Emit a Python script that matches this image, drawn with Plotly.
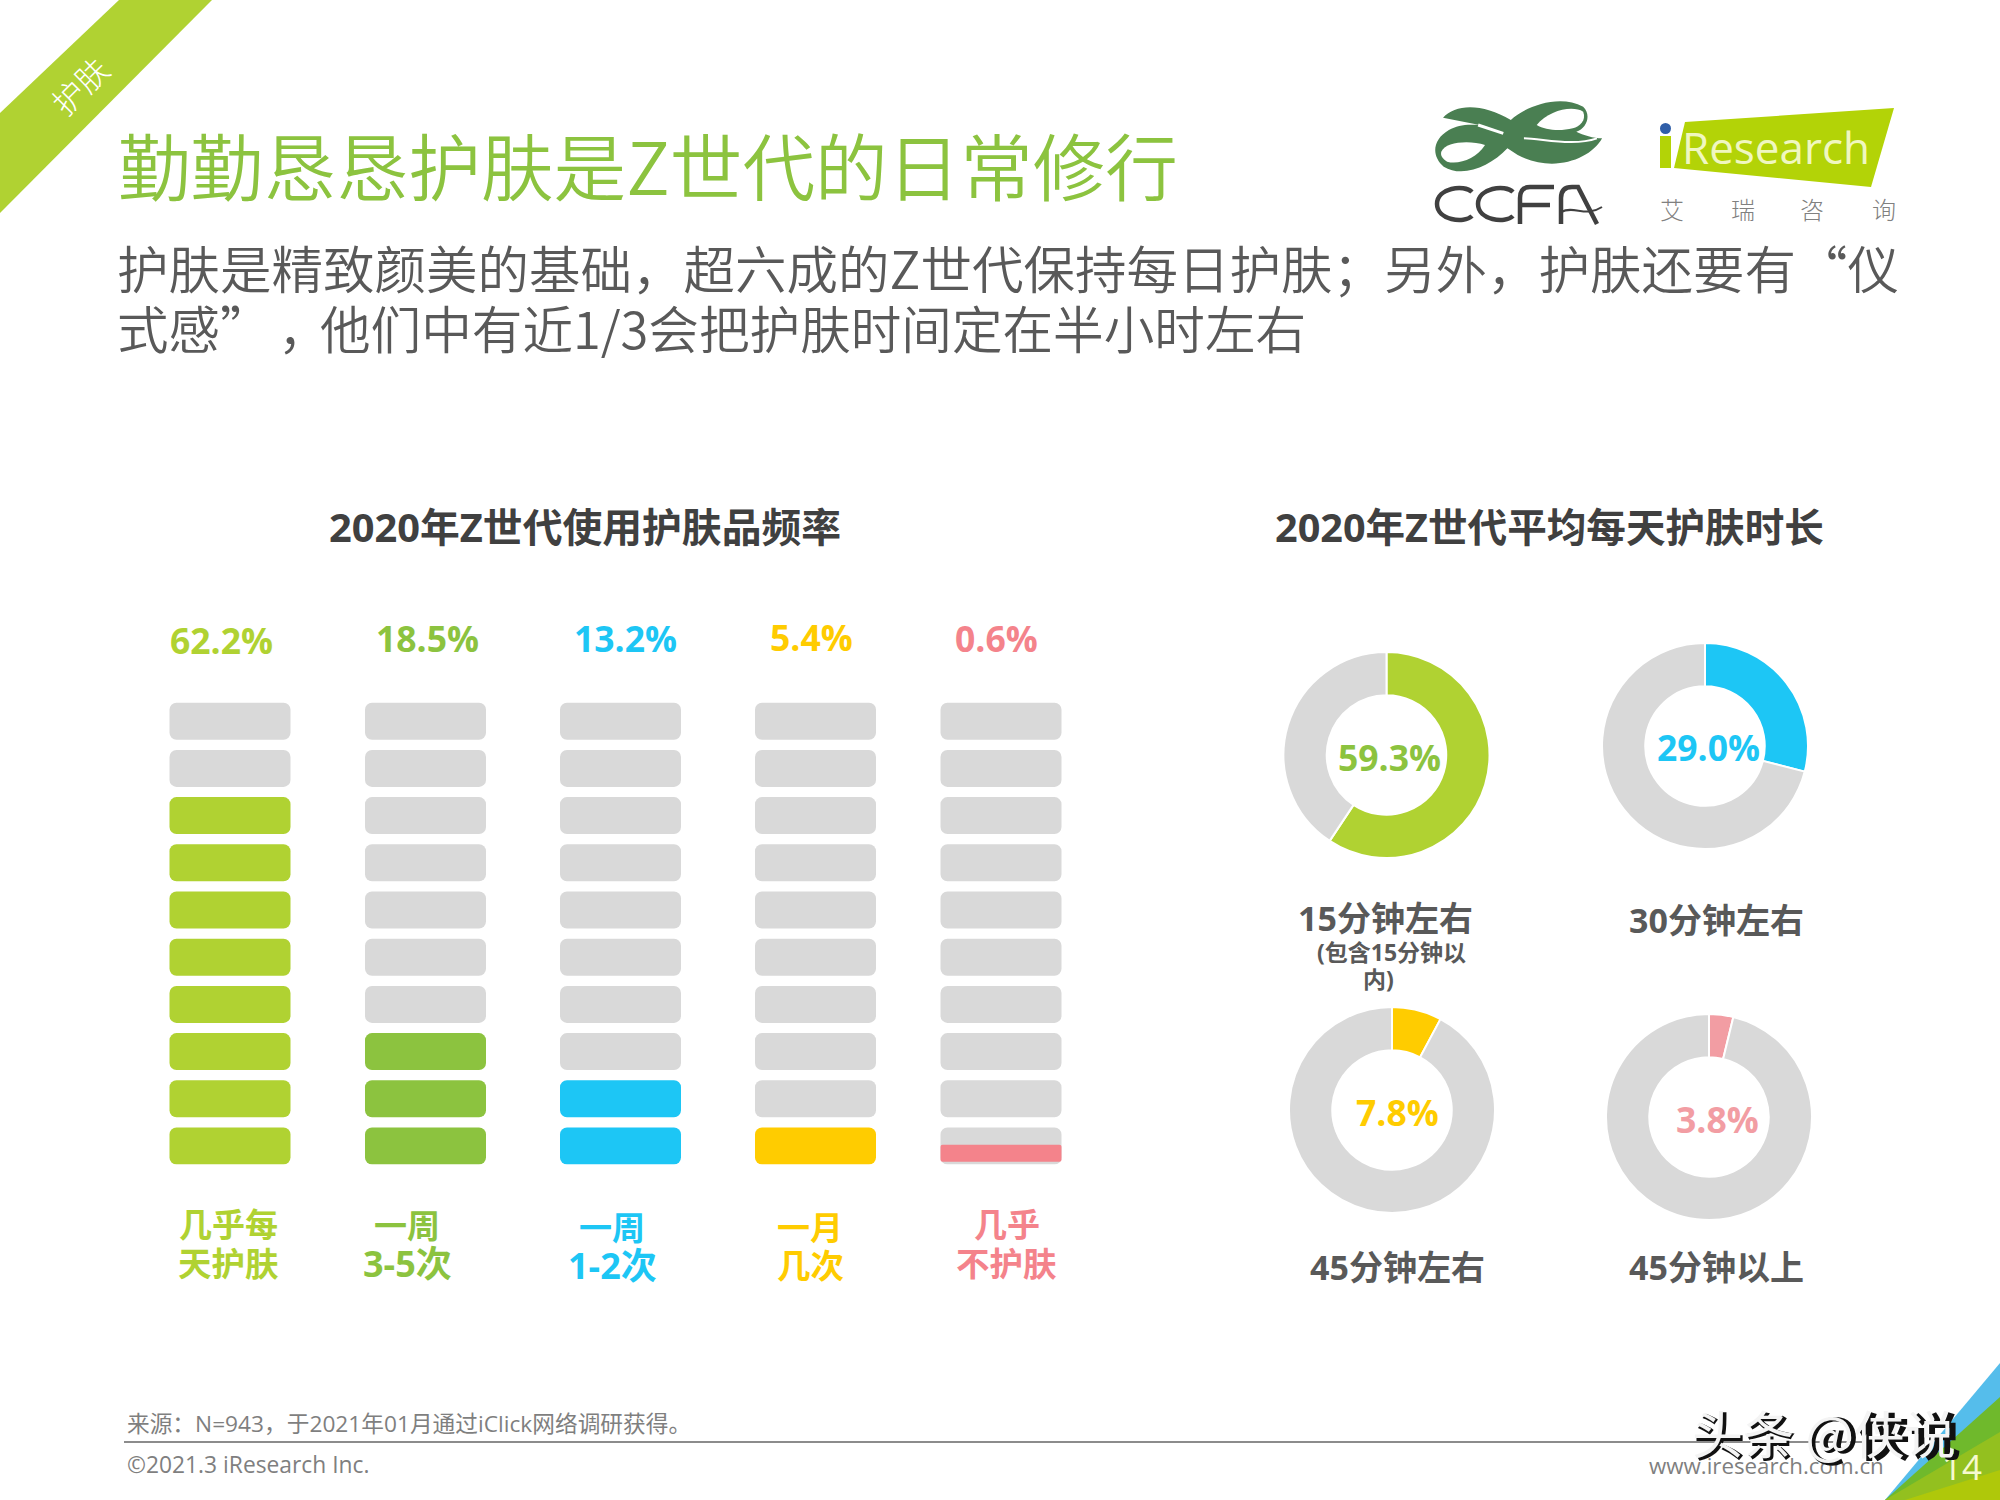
import plotly.graph_objects as go

# ---------- data ----------
freq_line1 = ["几乎每", "一周", "一周", "一月", "几乎"]
freq_line2 = ["天护肤", "3-5次", "1-2次", "几次", "不护肤"]
freq_pct = [62.2, 18.5, 13.2, 5.4, 0.6]
freq_rows_filled = [8, 3, 2, 1, 0]
rows_total = 10
pink_partial = 0.36

dur_labels = ["15分钟左右", "30分钟左右", "45分钟左右", "45分钟以上"]
dur_pct = [59.3, 29.0, 7.8, 3.8]

# ---------- style ----------
W, H = 2000, 1500
LIME, GREEN, CYAN, YELLOW, PINK, GREY = "#B0D232", "#8CC33F", "#1DC6F5", "#FFCC00", "#F4838B", "#D9D9D9"
PALEPINK = "#F29DA3"
freq_colors = [LIME, GREEN, CYAN, YELLOW, PINK]
dur_colors = [LIME, CYAN, YELLOW, PALEPINK]
dlab_colors = [GREEN, CYAN, YELLOW, PALEPINK]
col_x = [230, 425.5, 620.5, 815.5, 1001]
bar_w = 121
row_pitch = 47.2
bar_bottom_px = 1164.5
row_h = 37 / row_pitch
pct_pos = [(221, 640), (427, 638), (625, 638), (811, 637), (996, 638)]
lab_x = [228, 407, 612, 810, 1007]
lab_y1 = [1224, 1225, 1227, 1227, 1224]
lab_y2 = [1263, 1263, 1265, 1265, 1263]
lab2_size = [33.5, 36, 36, 33.5, 33.5]
donut_pos = [(1386.5, 755), (1705, 746), (1392, 1110), (1709, 1117)]
donut_r = 103
dlab_pos = [(1389, 757), (1708, 747), (1397, 1112), (1717, 1119)]
capt_pos = [(1385, 918), (1716, 920), (1397, 1267), (1716, 1267)]

CJK = "Noto Sans CJK SC"
LAT = "Open Sans, Noto Sans CJK SC"

fig = go.Figure()

# bars: grey background slots + coloured slots
for i, cx in enumerate(col_x):
    n = freq_rows_filled[i]
    grey_rows = list(range(n, rows_total))
    fig.add_trace(go.Bar(x=[cx] * len(grey_rows), y=[row_h] * len(grey_rows), base=grey_rows,
                         width=bar_w, marker=dict(color=GREY, cornerradius=7, line_width=0),
                         hoverinfo="skip", showlegend=False))
    if n:
        rows = list(range(n))
        fig.add_trace(go.Bar(x=[cx] * n, y=[row_h] * n, base=rows, width=bar_w,
                             marker=dict(color=freq_colors[i], cornerradius=7, line_width=0),
                             hoverinfo="skip", showlegend=False))
fig.add_trace(go.Bar(x=[col_x[4]], y=[pink_partial], base=[0.06], width=bar_w,
                     marker=dict(color=PINK, cornerradius=2, line_width=0),
                     hoverinfo="skip", showlegend=False))

# donuts
for v, c, (cx, cy) in zip(dur_pct, dur_colors, donut_pos):
    fig.add_trace(go.Pie(values=[v, 100 - v], hole=0.58, sort=False, direction="clockwise", rotation=0,
                         marker=dict(colors=[c, GREY], line=dict(color="white", width=2)),
                         textinfo="none", hoverinfo="skip", showlegend=False,
                         domain=dict(x=[(cx - donut_r) / W, (cx + donut_r) / W],
                                     y=[1 - (cy + donut_r) / H, 1 - (cy - donut_r) / H])))


def txt(x, y, s, size, color, family=CJK, weight=400, anchor="center", **kw):
    fig.add_annotation(xref="paper", yref="paper", x=x / W, y=1 - y / H, text=s, showarrow=False,
                       xanchor=anchor, yanchor="middle", align=anchor,
                       font=dict(size=size, color=color, family=family, weight=weight), **kw)


def poly(pts, color, layer="below"):
    d = "M" + " L".join(f"{x / W:.5f},{1 - y / H:.5f}" for x, y in pts) + " Z"
    fig.add_shape(type="path", xref="paper", yref="paper", path=d, fillcolor=color, line_width=0, layer=layer)


def P(x, y):
    return f"{x / W:.5f},{1 - y / H:.5f}"


def Z(a, b):  # logo crop coordinates to page pixels
    return P(1380 + a / 2.904, 70 + b / 3)


def zpath(cmds, fill=None, line=None, width=0):
    parts = []
    for c, pts in cmds:
        parts.append(c + " ".join(Z(*p) for p in pts))
    d = " ".join(parts)
    fig.add_shape(type="path", xref="paper", yref="paper", path=d, fillcolor=fill,
                  line=dict(color=line or "rgba(0,0,0,0)", width=width), layer="below")


def stroke(d, color, width):
    fig.add_shape(type="path", xref="paper", yref="paper", path=d, line=dict(color=color, width=width), layer="below")


# header
poly([(119, 0), (212, 0), (0, 213), (0, 113)], LIME)
txt(79, 85, "护肤", 32, "white", weight=300, textangle=-45)
txt(116, 163, "勤勤恳恳护肤是Z世代的日常修行", 72.6, GREEN, weight=350, anchor="left")
txt(115, 266, "护肤是精致颜美的基础，超六成的Z世代保持每日护肤；另外，护肤还要有“仪", 51.5, "#595959", weight=350, anchor="left")
txt(115, 327, "式感”", 51.5, "#595959", weight=350, anchor="left")
txt(276, 327, "，", 51.5, "#595959", weight=350, anchor="left")
txt(318, 327, "他们中有近1/3会把护肤时间定在半小时左右", 50.6, "#595959", weight=350, anchor="left")

# CCFA logo (ribbon knot approximated)
LOGO = "#4A7F52"
zpath([("M", [(183, 143)]),
       ("C", [(220, 100), (300, 100), (380, 150)]),
       ("C", [(420, 110), (520, 70), (590, 110)]),
       ("C", [(615, 135), (600, 175), (570, 185)]),
       ("C", [(590, 195), (620, 205), (645, 205)]),
       ("C", [(610, 270), (500, 310), (400, 255)]),
       ("L", [(370, 235)]),
       ("C", [(320, 290), (240, 325), (185, 290)]),
       ("C", [(150, 260), (150, 210), (200, 180)]),
       ("C", [(225, 165), (250, 162), (290, 165)]),
       ("L", [(183, 143)]), ("Z", [])], fill=LOGO)
zpath([("M", [(455, 165)]), ("C", [(490, 120), (560, 105), (590, 125)]),
       ("C", [(600, 150), (580, 170), (560, 175)]), ("C", [(520, 185), (480, 180), (455, 165)]), ("Z", [])], fill="white")
zpath([("M", [(178, 245)]), ("C", [(190, 215), (260, 210), (305, 225)]),
       ("C", [(280, 265), (230, 285), (195, 275)]), ("C", [(180, 265), (175, 255), (178, 245)]), ("Z", [])], fill="white")
zpath([("M", [(285, 165)]), ("L", [(358, 190)])], line="white", width=3)
zpath([("M", [(418, 205)]), ("C", [(470, 205), (560, 230), (630, 205)])], line="white", width=2)

# stylised CCFA lettering
INK = "#404040"
for x0, x1 in [(1437, 1472), (1478, 1513)]:
    stroke(f"M{P(x1, 192)} C{P(x1 - 8, 184)} {P(x0, 188)} {P(x0, 204)} C{P(x0, 220)} {P(x1 - 8, 224)} {P(x1, 216)}", INK, 4.5)
stroke(f"M{P(1554, 187)} L{P(1530, 187)} C{P(1522, 187)} {P(1520, 192)} {P(1520, 198)} L{P(1520, 224)}", INK, 4.5)
stroke(f"M{P(1520, 205)} L{P(1550, 205)}", INK, 4.5)
stroke(f"M{P(1561, 224)} L{P(1561, 198)} C{P(1561, 190)} {P(1565, 187)} {P(1572, 187)} L{P(1578, 187)} L{P(1597, 224)}", INK, 4.5)
stroke(f"M{P(1561, 212)} C{P(1575, 205)} {P(1585, 218)} {P(1602, 207)}", INK, 2)

# iResearch logo
poly([(1685, 122), (1894, 108), (1871, 187), (1674, 168)], "#B3D307")
poly([(1660, 136), (1671, 136), (1671, 168), (1660, 168)], "#B3D307")
fig.add_shape(type="circle", xref="paper", yref="paper", x0=1660 / W, x1=1671 / W, y0=1 - 134 / H, y1=1 - 123 / H,
              fillcolor="#2F5EA8", line_width=0, layer="below")
txt(1776, 147, "Research", 44, "#F0F7C0", family="Open Sans")
for x, ch in zip([1672, 1743, 1812, 1884], "艾瑞咨询"):
    txt(x, 208, ch, 24, "#808080", weight=300)

# section titles
txt(585, 527, "2020年Z世代使用护肤品频率", 39.8, "#404040", family=LAT, weight=700)
txt(1549, 527, "2020年Z世代平均每天护肤时长", 39.6, "#404040", family=LAT, weight=700)

for v, c, (x, y) in zip(freq_pct, freq_colors, pct_pos):
    txt(x, y, f"{v:.1f}%", 35.5, c, family=LAT, weight=700)
for s1, s2, c, x, y1, y2, sz in zip(freq_line1, freq_line2, freq_colors, lab_x, lab_y1, lab_y2, lab2_size):
    txt(x, y1, s1, 33, c, family=LAT, weight=700)
    txt(x, y2, s2, sz, c, family=LAT, weight=700)
for v, c, (x, y) in zip(dur_pct, dlab_colors, dlab_pos):
    txt(x, y, f"{v:.1f}%", 35.5, c, family=LAT, weight=700)
for s, (x, y) in zip(dur_labels, capt_pos):
    txt(x, y, s, 34, "#595959", family=LAT, weight=700)
txt(1391, 952, "(包含15分钟以", 23, "#595959", family=LAT, weight=700)
txt(1378, 979, "内)", 23, "#595959", family=LAT, weight=700)

# footer
txt(125, 1423, "来源：N=943，于2021年01月通过iClick网络调研获得。", 22.7, "#7F7F7F", family=LAT, anchor="left")
fig.add_shape(type="line", xref="paper", yref="paper", x0=124 / W, x1=1864 / W, y0=1 - 1442 / H, y1=1 - 1442 / H,
              line=dict(color="#8C8C8C", width=2), layer="below")
txt(125, 1464, "©2021.3 iResearch Inc.", 22.8, "#7F7F7F", family=LAT, anchor="left")
txt(1766, 1465, "www.iresearch.com.cn", 22.3, "#7F7F7F", family=LAT)
poly([(2000, 1363), (1885, 1500), (2000, 1500)], "#55BDEB")
poly([(2000, 1397), (1885, 1500), (2000, 1500)], "#6FB92C")
poly([(2000, 1432), (1885, 1500), (2000, 1500)], "#93C01F")
poly([(2000, 1470), (1905, 1500), (2000, 1500)], "#AFC80A")
txt(1962, 1466, "14", 35, "#F6F9D0", family=LAT)
txt(1826, 1433, "头条 @侠说", 51, "#111111", weight=700, xshift=1, yshift=-1)
txt(1824, 1432, "头条 @侠说", 51, "#F4F4F4", weight=400)

fig.update_layout(
    width=W, height=H, margin=dict(l=0, r=0, t=0, b=0), paper_bgcolor="white", plot_bgcolor="white",
    barmode="overlay", showlegend=False,
    xaxis=dict(range=[0, W], domain=[0, 1], visible=False, fixedrange=True),
    yaxis=dict(range=[0, rows_total], domain=[(H - bar_bottom_px) / H, (H - bar_bottom_px + row_pitch * rows_total) / H],
               visible=False, fixedrange=True),
)
fig.write_html("out.html", config={"displayModeBar": False}, post_script="document.body.style.margin='0';")
